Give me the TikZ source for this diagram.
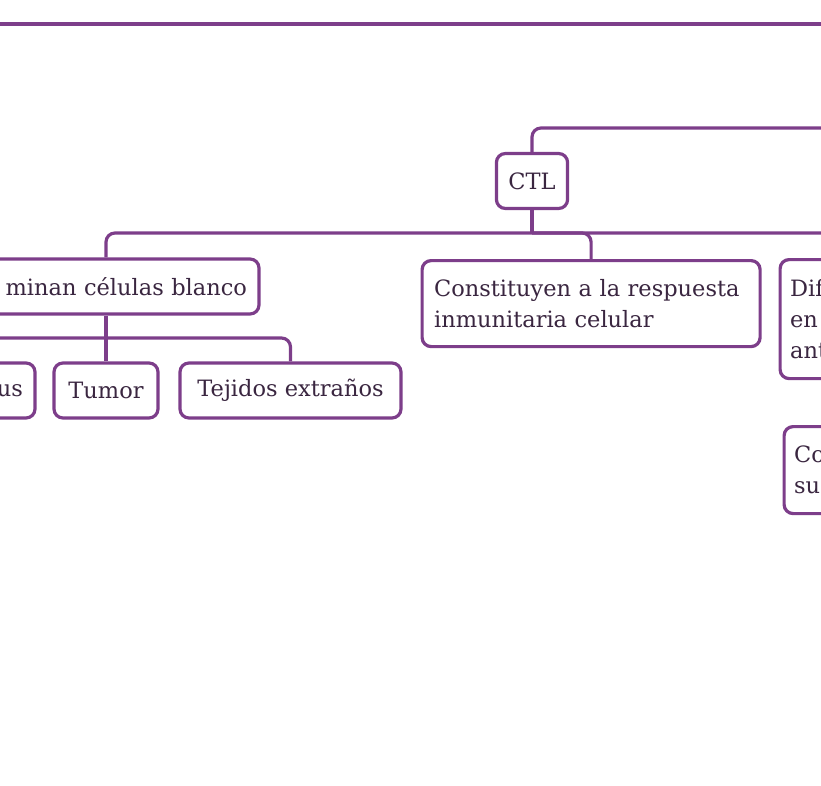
\documentclass[tikz,border=0pt]{standalone}
\usepackage{fontspec}
\setmainfont{DejaVu Serif}
\usepackage{tikz}
\definecolor{mapline}{RGB}{125,62,138}
\definecolor{maptext}{RGB}{58,38,64}
\tikzset{
topic/.style={draw=mapline, line width=3.2pt, rounded corners=9pt, fill=white, text=maptext,
  inner xsep=12pt, inner ysep=0pt, font=\fontsize{22.5}{31}\selectfont},
link/.style={draw=mapline, line width=3.2pt, rounded corners=9pt}
}
\begin{document}
\begin{tikzpicture}[x=1pt, y=-1pt]

                \useasboundingbox (0,0) rectangle (821,786);
                \clip (0,0) rectangle (821,786);

                \node[topic, minimum width=70pt, minimum height=55pt] (ctl) at (532,181) {CTL};
                \node[topic, text width=282pt, align=right, minimum height=55pt] (elim) at (106,286.5) {minan células blanco};
                \node[topic, text width=314pt, align=left, minimum height=86pt, anchor=north west] (cons) at (420.5,259) {Constituyen a la respuesta\\inmunitaria celular};
                \node[topic, text width=300pt, align=left, minimum height=119pt, anchor=north west, inner xsep=10pt] (dif) at (778.5,258) {Dif\\en\\ant};
                \node[topic, text width=300pt, align=left, minimum height=87pt, anchor=north west, inner xsep=10pt] (co) at (782.5,425) {Co\\su};
                \node[topic, text width=66pt, align=right, minimum height=55pt] (us) at (-10,390.5) {us};
                \node[topic, minimum width=104pt, minimum height=55pt] (tumor) at (106,390.5) {Tumor};
                \node[topic, minimum width=221pt, minimum height=55pt] (tej) at (290.5,390.5) {Tejidos extraños};

                \coordinate (topW) at (-20,24);
                \coordinate (topE) at (850,24);
                \coordinate (ctlUp) at (900,128);
                \coordinate (ctlBus) at (532,233);
                \coordinate (elimBus) at (106,338);

                \draw[link] (topW) -- (topE);
                \draw[link] (ctl.north) |- (ctlUp);
                \draw[link] (ctl.south) -- (ctlBus);
                \draw[link] (ctlBus) -| (elim.north);
                \draw[link] (ctlBus) -| (cons.north);
                \draw[link] (ctlBus) -| (dif.north);
                \draw[link] (elim.south) -- (elimBus);
                \draw[link] (elimBus) -- (tumor.north);
                \draw[link] (elimBus) -| (tej.north);
                \draw[link] (elimBus) -| (us.north);

\end{tikzpicture}
\end{document}
